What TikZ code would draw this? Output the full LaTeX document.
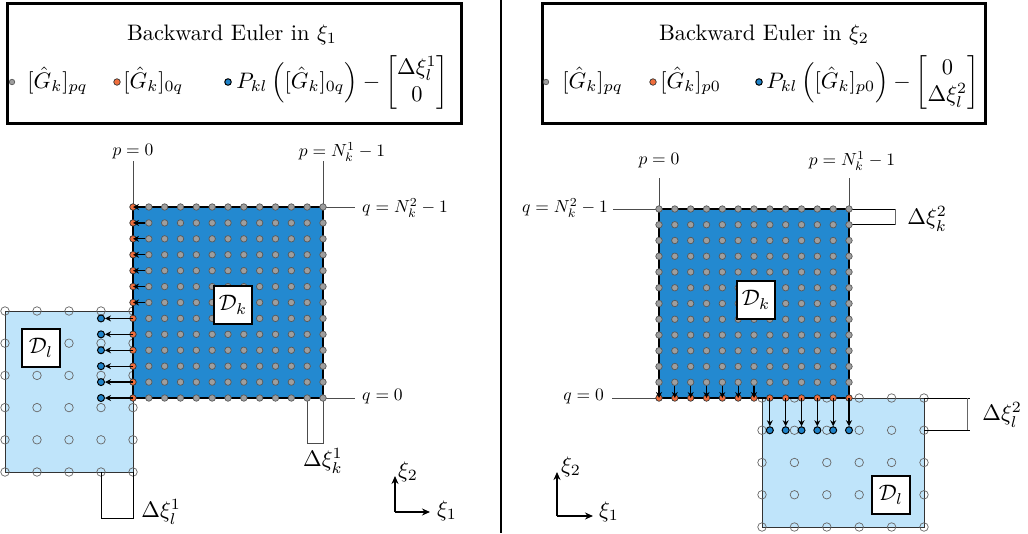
\documentclass[tikz,border=0pt]{standalone}
\usepackage{fix-cm}
\usepackage{amsmath}
\usetikzlibrary{arrows.meta}
\definecolor{dkblue}{RGB}{35,137,208}
\definecolor{dlblue}{RGB}{191,228,250}
\definecolor{ptgray}{RGB}{158,158,158}
\definecolor{ptorange}{RGB}{240,110,60}
\definecolor{ptblue}{RGB}{30,130,200}
\tikzset{
 gdot/.style={circle,fill=ptgray,draw=black!65,line width=0.7pt,minimum size=6.5pt,inner sep=0pt},
 odot/.style={circle,fill=ptorange,draw=black!80,line width=0.7pt,minimum size=6.5pt,inner sep=0pt},
 bdot/.style={circle,fill=ptblue,draw=black,line width=1pt,minimum size=7pt,inner sep=0pt},
 hdot/.style={circle,draw=black!60,line width=0.7pt,minimum size=8.5pt,inner sep=0pt},
 bigtxt/.style={font=\normalsize,scale=2.24},
 lbl/.style={font=\normalsize,scale=1.75,inner sep=0.5pt},
 dlab/.style={draw,line width=2.5pt,fill=white,minimum width=17pt,minimum height=17pt,inner sep=0pt,font=\normalsize,scale=2.24},
 eul/.style={-{Stealth[length=6pt,width=6pt]},line width=1.3pt},
 ann/.style={black!70,line width=0.8pt},
 axisarrow/.style={-{Stealth[length=8pt,width=7pt]},line width=1.5pt},
 legbox/.style={line width=3pt},
}
\begin{document}
\begin{tikzpicture}[x=1pt,y=-1pt]
\useasboundingbox (0,0) rectangle (1028,533);
% divider
\coordinate (divtop) at (501,0);
\coordinate (divbot) at (501,533);
\draw[line width=1.5pt] (divtop) -- (divbot);

% ================= LEFT PANEL =================
% legend
\draw[legbox] (7,3) rectangle (461,123);
\node[bigtxt,anchor=base,inner sep=0pt] (Ltitle) at (232,40) {Backward Euler in $\xi_1$};
\node[gdot,minimum size=5.5pt] (Llg) at (12,82) {};
\node[bigtxt,anchor=base west,inner sep=0pt] (Llgt) at (27,88) {$[\hat{G}_k]_{pq}$};
\node[odot] (Llo) at (117,82) {};
\node[bigtxt,anchor=base west,inner sep=0pt] (Llot) at (123,88) {$[\hat{G}_k]_{0q}$};
\node[bdot,minimum size=6.5pt] (Llb) at (228,82) {};
\node[bigtxt,anchor=base west,inner sep=0pt] (Llbt) at (236,88) {$P_{kl}\left([\hat{G}_k]_{0q}\right)-\begin{bmatrix}\Delta\xi_l^1\\ 0\end{bmatrix}$};

% D_l
\fill[dlblue] (5,311) rectangle (133,472);
\draw[black!80,line width=0.8pt] (5,311) rectangle (133,472);
\foreach \a in {0,...,4}{\foreach \b in {0,...,5}{
  \node[hdot] (Lh-\a-\b) at ({5+32*\a},{311+32.2*\b}) {};}}
% D_k
\fill[dkblue] (133,207) rectangle (323,398);
\coordinate (LTL) at (133,207);
\coordinate (LTR) at (323,207);
\coordinate (LBR) at (323,398);
\coordinate (LBR1) at (307.17,398);
\coordinate (LBL) at (133,472);
\coordinate (LBL1) at (101,472);
% annotations
\coordinate (Lp0e) at (133,161);
\coordinate (LpNe) at (323,161);
\coordinate (LqNe) at (355,207);
\coordinate (Lq0e) at (355,398);
\draw[ann] (LTL) -- (Lp0e);
\draw[ann] (LTR) -- (LpNe);
\draw[ann] (LTR) -- (LqNe);
\draw[ann] (LBR) -- (Lq0e);
\node[lbl] (Lp0) at (133,152) {$p=0$};
\node[lbl] (LpN) at (342,152) {$p=N_k^1-1$};
\node[lbl,anchor=west] (LqN) at (361,208) {$q=N_k^2-1$};
\node[lbl,anchor=west] (Lq0) at (361,397) {$q=0$};
\coordinate (Ldk1a) at (307.17,443);
\coordinate (Ldk1b) at (323,443);
\draw[ann] (LBR1) -- (Ldk1a) -- (Ldk1b) -- (LBR);
\node[bigtxt,inner sep=0pt] (Ldk1) at (323,461) {$\Delta\xi_k^1$};
\coordinate (Ldl1a) at (101,518);
\coordinate (Ldl1b) at (133,518);
\draw[black,line width=0.8pt] (LBL1) -- (Ldl1a) -- (Ldl1b) -- (LBL);
\node[bigtxt,anchor=west,inner sep=0pt] (Ldl1) at (141,512) {$\Delta\xi_l^1$};
% D_k border
\draw[line width=2.5pt] (133,207) rectangle (323,398);
% points
\foreach \i in {1,...,12}{\foreach \j in {0,...,12}{
  \node[gdot] (Lg-\i-\j) at ({133+\i*190/12},{398-\j*191/12}) {};}}
\foreach \j in {0,...,12}{\node[odot] (Lo-\j) at (133,{398-\j*191/12}) {};}
\foreach \j in {0,...,5}{\node[bdot] (Lb-\j) at (101,{398-\j*191/12}) {};
  \draw[eul] (Lo-\j.center) -- (Lb-\j);}
\foreach \j in {6,...,12}{\draw[eul] (Lg-1-\j) -- (Lo-\j.center);}
% domain labels
\node[dlab] (LDk) at (233,305) {$\mathcal{D}_k$};
\node[dlab] (LDl) at (41,348) {$\mathcal{D}_l$};
% axes
\coordinate (Lax0) at (395,512);
\coordinate (Lax1) at (430,512);
\coordinate (Lax2) at (395,476);
\draw[axisarrow] (Lax0) -- (Lax1);
\draw[axisarrow] (Lax0) -- (Lax2);
\node[bigtxt,inner sep=0pt] (Lxi1) at (447,511) {$\xi_1$};
\node[bigtxt,inner sep=0pt] (Lxi2) at (408,472) {$\xi_2$};

% ================= RIGHT PANEL =================
\draw[legbox] (542,3) rectangle (985,123);
\node[bigtxt,anchor=base,inner sep=0pt] (Rtitle) at (764,40) {Backward Euler in $\xi_2$};
\node[gdot,minimum size=5.5pt] (Rlg) at (546,82) {};
\node[bigtxt,anchor=base west,inner sep=0pt] (Rlgt) at (562,88) {$[\hat{G}_k]_{pq}$};
\node[odot] (Rlo) at (653,82) {};
\node[bigtxt,anchor=base west,inner sep=0pt] (Rlot) at (660,88) {$[\hat{G}_k]_{p0}$};
\node[bdot,minimum size=6.5pt] (Rlb) at (759,82) {};
\node[bigtxt,anchor=base west,inner sep=0pt] (Rlbt) at (766,88) {$P_{kl}\left([\hat{G}_k]_{p0}\right)-\begin{bmatrix}0\\ \Delta\xi_l^2\end{bmatrix}$};

% D_l
\fill[dlblue] (762,398) rectangle (924,527);
\draw[black!80,line width=0.8pt] (762,398) rectangle (924,527);
\foreach \a in {0,...,5}{\foreach \b in {0,...,4}{
  \node[hdot] (Rh-\a-\b) at ({762+32.4*\a},{398+32.25*\b}) {};}}
% D_k
\fill[dkblue] (659,209) rectangle (849,398);
\coordinate (RTL) at (659,209);
\coordinate (RTR) at (849,209);
\coordinate (RTR1) at (849,224.75);
\coordinate (RBL) at (659,398);
\coordinate (RDlTR) at (924,398);
\coordinate (RDlTR1) at (924,430.25);
\coordinate (Rp0e) at (659,178);
\coordinate (RpNe) at (849,178);
\coordinate (RqNe) at (613,209);
\coordinate (Rq0e) at (612,398);
\draw[ann] (RTL) -- (Rp0e);
\draw[ann] (RTR) -- (RpNe);
\draw[ann] (RTL) -- (RqNe);
\draw[ann] (RBL) -- (Rq0e);
\node[lbl] (Rp0) at (659,161) {$p=0$};
\node[lbl] (RpN) at (852,161) {$p=N_k^1-1$};
\node[lbl,anchor=east] (RqN) at (609,208) {$q=N_k^2-1$};
\node[lbl,anchor=east] (Rq0) at (605,397) {$q=0$};
\coordinate (Rdk2a) at (895,209);
\coordinate (Rdk2b) at (895,224.75);
\draw[black,line width=0.8pt] (RTR) -- (Rdk2a);
\draw[black,line width=0.8pt] (RTR1) -- (Rdk2b);
\draw[black!60,line width=0.8pt] (Rdk2a) -- (Rdk2b);
\node[bigtxt,anchor=west,inner sep=0pt] (Rdk2) at (907,219) {$\Delta\xi_k^2$};
\coordinate (Rdl2a) at (970,398);
\coordinate (Rdl2b) at (970,430.25);
\coordinate (Rdl2c) at (967,398);
\coordinate (Rdl2d) at (967,430.25);
\draw[black,line width=0.8pt] (RDlTR) -- (Rdl2a);
\draw[black,line width=0.8pt] (RDlTR1) -- (Rdl2b);
\draw[black!60,line width=0.8pt] (Rdl2c) -- (Rdl2d);
\node[bigtxt,anchor=west,inner sep=0pt] (Rdl2) at (982,415) {$\Delta\xi_l^2$};
% D_k border
\draw[line width=2.5pt] (659,209) rectangle (849,398);
% points
\foreach \i in {0,...,12}{\foreach \j in {1,...,12}{
  \node[gdot] (Rg-\i-\j) at ({659+\i*190/12},{398-\j*189/12}) {};}}
\foreach \i in {0,...,12}{\node[odot] (Ro-\i) at ({659+\i*190/12},398) {};}
\foreach \i in {7,...,12}{\node[bdot] (Rb-\i) at ({659+\i*190/12},430.25) {};
  \draw[eul] (Ro-\i.center) -- (Rb-\i);}
\foreach \i in {0,...,6}{\draw[eul] (Rg-\i-1) -- (Ro-\i.center);}
% domain labels
\node[dlab] (RDk) at (756,300) {$\mathcal{D}_k$};
\node[dlab] (RDl) at (891,495) {$\mathcal{D}_l$};
% axes
\coordinate (Rax0) at (557,516);
\coordinate (Rax1) at (593,516);
\coordinate (Rax2) at (557,472);
\draw[axisarrow] (Rax0) -- (Rax1);
\draw[axisarrow] (Rax0) -- (Rax2);
\node[bigtxt,inner sep=0pt] (Rxi1) at (609,512) {$\xi_1$};
\node[bigtxt,inner sep=0pt] (Rxi2) at (571,467) {$\xi_2$};
\end{tikzpicture}
\end{document}
